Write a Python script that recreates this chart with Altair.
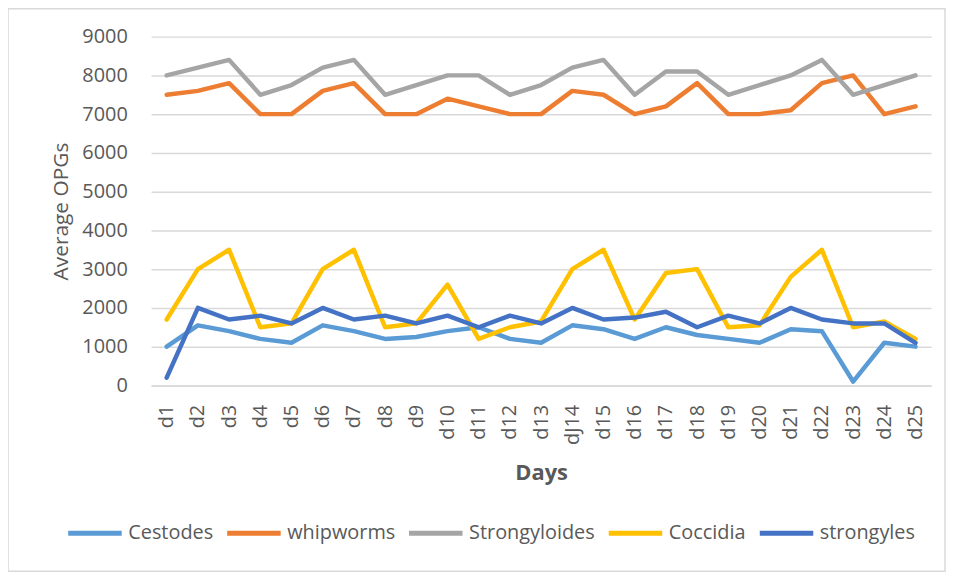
import altair as alt
import pandas as pd

days = ["d1", "d2", "d3", "d4", "d5", "d6", "d7", "d8", "d9", "d10", "d11", "d12", "d13",
        "dJ14", "d15", "d16", "d17", "d18", "d19", "d20", "d21", "d22", "d23", "d24", "d25"]

series_names = ["Cestodes", "whipworms", "Strongyloides", "Coccidia", "strongyles"]
series_colors = ["#5B9BD5", "#ED7D31", "#A5A5A5", "#FFC000", "#4472C4"]

cestodes = [1000, 1550, 1400, 1200, 1100, 1550, 1400, 1200, 1250, 1400, 1500, 1200, 1100,
            1550, 1450, 1200, 1500, 1300, 1200, 1100, 1450, 1400, 100, 1100, 1000]
whipworms = [7500, 7600, 7800, 7000, 7000, 7600, 7800, 7000, 7000, 7400, 7200, 7000, 7000,
             7600, 7500, 7000, 7200, 7800, 7000, 7000, 7100, 7800, 8000, 7000, 7200]
strongyloides = [8000, 8200, 8400, 7500, 7750, 8200, 8400, 7500, 7750, 8000, 8000, 7500, 7750,
                 8200, 8400, 7500, 8100, 8100, 7500, 7750, 8000, 8400, 7500, 7750, 8000]
coccidia = [1700, 3000, 3500, 1500, 1600, 3000, 3500, 1500, 1600, 2600, 1200, 1500, 1650,
            3000, 3500, 1700, 2900, 3000, 1500, 1550, 2800, 3500, 1500, 1650, 1200]
strongyles = [200, 2000, 1700, 1800, 1600, 2000, 1700, 1800, 1600, 1800, 1500, 1800, 1600,
              2000, 1700, 1750, 1900, 1500, 1800, 1600, 2000, 1700, 1600, 1600, 1100]

y_ticks = [0, 1000, 2000, 3000, 4000, 5000, 6000, 7000, 8000, 9000]

values = [cestodes, whipworms, strongyloides, coccidia, strongyles]
rows = []
for name, vals in zip(series_names, values):
    for i, (d, v) in enumerate(zip(days, vals)):
        rows.append({"Day": d, "idx": i, "Series": name, "Value": v})
df = pd.DataFrame(rows)

FONT = "Open Sans"
TXT = "#595959"

lines = alt.Chart(df).mark_line(strokeWidth=4.5, strokeCap="round", strokeJoin="round").encode(
    x=alt.X("Day:N", sort=days, title="Days",
            scale=alt.Scale(type="point", padding=0.5),
            axis=alt.Axis(labelAngle=270, ticks=False, tickSize=0, labelPadding=19,
                          domain=True, domainColor="#d9d9d9", domainWidth=1.5,
                          grid=False, labelFontSize=20, labelColor=TXT,
                          titleFontSize=22, titleFontWeight="bold", titleColor=TXT,
                          titlePadding=18, labelFont=FONT, titleFont=FONT)),
    y=alt.Y("Value:Q", title="Average OPGs",
            scale=alt.Scale(domain=[0, 9000], nice=False),
            axis=alt.Axis(values=y_ticks, format="d", ticks=False, tickSize=0, domain=False,
                          labelPadding=24, gridColor="#d9d9d9", gridWidth=1.5,
                          labelFontSize=20, labelColor=TXT, titleFontSize=21,
                          titleFontWeight="normal", titleColor=TXT, titlePadding=10,
                          labelFont=FONT, titleFont=FONT)),
    color=alt.Color("Series:N", sort=series_names,
                    scale=alt.Scale(domain=series_names, range=series_colors),
                    legend=alt.Legend(title=None, orient="none", direction="horizontal",
                                      legendX=-86, legendY=470, symbolType="stroke",
                                      symbolSize=2900, symbolStrokeWidth=5,
                                      labelFontSize=20, labelColor=TXT, labelFont=FONT,
                                      labelOffset=4, columnPadding=3, padding=0)),
    order=alt.Order("idx:Q"),
)

frame = alt.Chart(pd.DataFrame({"a": [0]})).mark_rect(
    filled=False, stroke="#d9d9d9", strokeWidth=1.5
).encode(
    x=alt.value(-144), x2=alt.value(799), y=alt.value(-28), y2=alt.value(538)
)

chart = alt.layer(frame, lines).properties(
    width=785, height=351,
    autosize=alt.AutoSizeParams(type="none"),
    padding={"left": 144, "top": 27, "right": 16, "bottom": 190},
    background="white",
).configure_view(stroke=None)

chart.save("out.html", embed_options={"renderer": "svg", "actions": False})
